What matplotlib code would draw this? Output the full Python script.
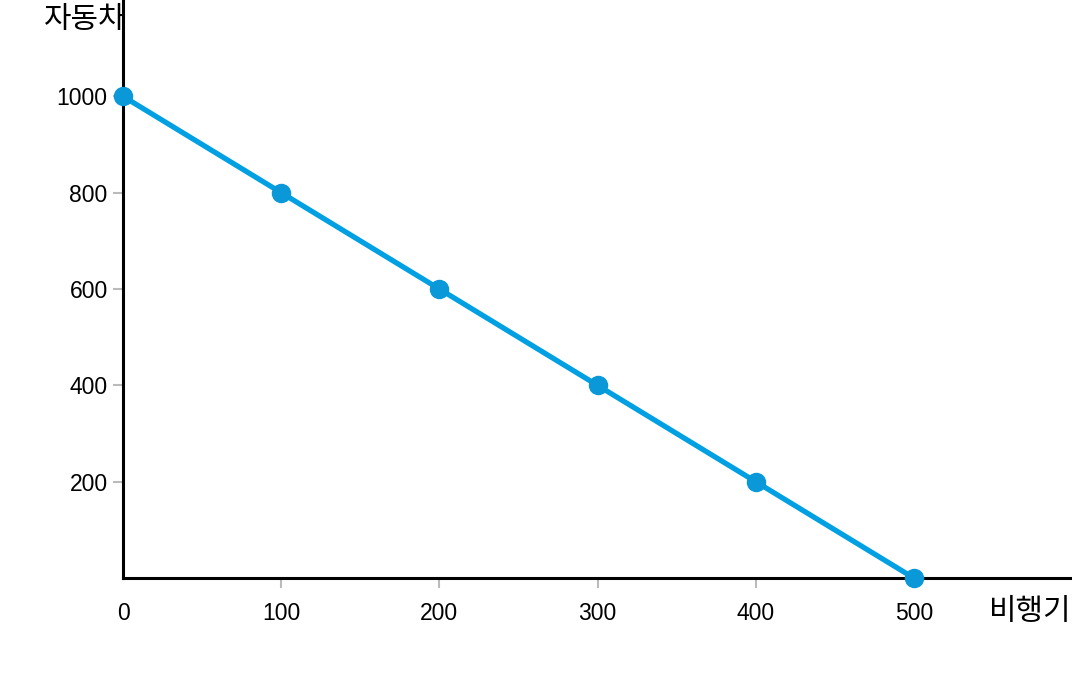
import matplotlib
matplotlib.use("Agg")
import matplotlib.pyplot as plt

airplanes = [0, 100, 200, 300, 400, 500]
cars = [1000, 800, 600, 400, 200, 0]
xticks = [0, 100, 200, 300, 400, 500]
yticks = [200, 400, 600, 800, 1000]
xlabel = "비행기"
ylabel = "자동차"

plt.rcParams['font.family'] = ['Liberation Sans', 'Noto Sans CJK KR', 'DejaVu Sans']

fig = plt.figure(figsize=(10.72, 6.92), dpi=100)
ax = fig.add_axes([123/1072, (692-578)/692, 1 - 123/1072, 578/692])
ax.set_xlim(0, 600)
ax.set_ylim(0, 1200)

ax.plot(airplanes, cars, color='#00a0e2', lw=3.8, zorder=3, solid_capstyle='butt')
ax.plot(airplanes, cars, 'o', color='#0a98d8', ms=13, zorder=4, clip_on=False)

for s in ['top', 'right']:
    ax.spines[s].set_visible(False)
for s in ['left', 'bottom']:
    ax.spines[s].set_linewidth(2.2)
    ax.spines[s].set_color('black')

ax.set_xticks(xticks)
ax.set_yticks(yticks)
ax.tick_params(axis='both', length=7, width=1.5, color='#bbbbbb', labelsize=16.5, pad=10)
ax.tick_params(axis='y', pad=4)
ax.xaxis.get_major_ticks()[0].tick1line.set_visible(False)

ax.text(126/1072, 1 - 19/692, ylabel, ha='right', va='center', fontsize=21.5,
        family=['Noto Sans CJK KR'], fontweight='light', transform=fig.transFigure,
        clip_on=False, zorder=1)
ax.text(1071/1072, 1 - 612/692, xlabel, ha='right', va='center', fontsize=21.5,
        family=['Noto Sans CJK KR'], fontweight='light', transform=fig.transFigure,
        clip_on=False, zorder=1)

fig.savefig('out.png', dpi=100)
